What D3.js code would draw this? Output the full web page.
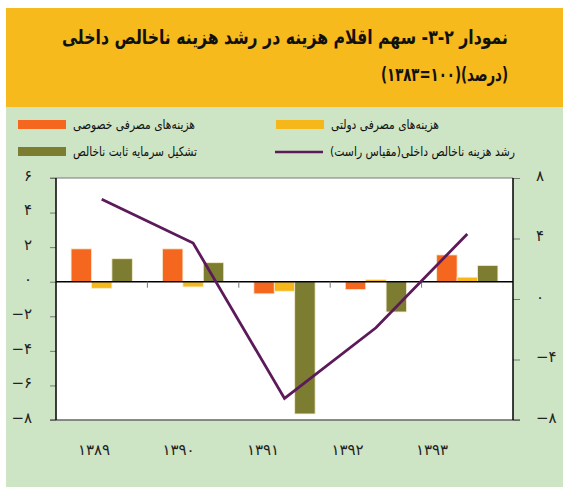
<!DOCTYPE html>
<html>
<head>
<meta charset="utf-8">
<script src="https://cdn.jsdelivr.net/npm/d3@7"></script>
<style>
  body { margin: 0; background: #fff; }
  text { font-family: "DejaVu Sans", sans-serif; }
</style>
</head>
<body>
<svg id="chart" width="563" height="487"></svg>
<script>
// chart data
var years = ["۱۳۸۹", "۱۳۹۰", "۱۳۹۱", "۱۳۹۲", "۱۳۹۳"];
var privateCons = [1.9, 1.9, -0.7, -0.45, 1.55];
var govCons = [-0.38, -0.3, -0.55, 0.12, 0.26];
var capital = [1.33, 1.1, -7.65, -1.75, 0.94];
var gdpGrowth = [6.6, 3.7, -6.57, -1.9, 4.3];
var leftTicks = [6, 4, 2, 0, -2, -4, -6, -8];
var rightTicks = [8, 4, 0, -4, -8];

var faDigits = "۰۱۲۳۴۵۶۷۸۹";
function fa(n) {
  var s = String(Math.abs(n)).replace(/[0-9]/g, function (c) { return faDigits[+c]; });
  return n < 0 ? "−" + s : s;
}

var svg = d3.select("#chart");

// background blocks
svg.append("rect").attr("x", 6).attr("y", 8).attr("width", 557).attr("height", 99).attr("fill", "#F6BA1C");
svg.append("rect").attr("x", 6).attr("y", 107).attr("width", 557).attr("height", 380).attr("fill", "#CDE5C5");

// title (squeezed to the width it has in the original)
// RLM marks keep "۲-۳-" in right-to-left order
svg.append("text")
  .attr("x", 508).attr("y", 44)
  .attr("direction", "rtl")
  .attr("text-anchor", "start")
  .attr("textLength", 446)
  .attr("lengthAdjust", "spacingAndGlyphs")
  .style("font-weight", "bold")
  .style("font-size", "20px")
  .attr("fill", "#111")
  .text("نمودار ۲\u200F-\u200F۳\u200F- سهم اقلام هزینه در رشد هزینه ناخالص داخلی");
svg.append("text")
  .attr("x", 508).attr("y", 81)
  .attr("direction", "rtl")
  .attr("text-anchor", "start")
  .attr("textLength", 127)
  .attr("lengthAdjust", "spacingAndGlyphs")
  .style("font-weight", "bold")
  .style("font-size", "19px")
  .attr("fill", "#111")
  .text("(درصد)(۱۰۰=۱۳۸۳)");

// plot measurements
var margin = { top: 178, right: 50, bottom: 67, left: 56 },
  width = 563 - margin.left - margin.right,
  height = 487 - margin.top - margin.bottom;

var x = d3.scaleBand().domain(years).range([0, width]).paddingInner(0.33).paddingOuter(0.165);
var xSeries = d3.scaleBand().domain([0, 1, 2]).range([0, x.bandwidth()]);
var xStep = d3.scaleBand().domain(years).range([0, width]);
var yLeft = d3.scaleLinear().domain([-8, 6]).range([height, 0]);
var yRight = d3.scaleLinear().domain([-8, 8]).range([height, 0]);
var xLabel = d3.scalePoint().domain(years).range([38, 376]);

var g = svg.append("g").attr("transform", "translate(" + margin.left + "," + margin.top + ")");

g.append("rect").attr("width", width).attr("height", height).attr("fill", "#fff");

// left axis
var leftAxis = g.append("g")
  .call(d3.axisLeft(yLeft).tickValues(leftTicks).tickSize(6).tickFormat(fa));
leftAxis.select(".domain").remove();
leftAxis.selectAll(".tick line").attr("stroke", "#777");
leftAxis.selectAll(".tick text")
  .attr("x", -24).attr("dy", "0.15em")
  .attr("direction", "ltr")
  .style("font-size", "15px").attr("fill", "#222");

// right axis
var rightAxis = g.append("g")
  .attr("transform", "translate(" + width + ",0)")
  .call(d3.axisRight(yRight).tickValues(rightTicks).tickSize(7).tickFormat(fa));
rightAxis.select(".domain").remove();
rightAxis.selectAll(".tick line").attr("stroke", "#777");
rightAxis.selectAll(".tick text")
  .attr("x", 23).attr("dy", "0.15em")
  .attr("direction", "ltr")
  .style("font-size", "15px").attr("fill", "#222");

// frame
g.append("line").attr("x1", -6).attr("x2", width).attr("y1", 0).attr("y2", 0).attr("stroke", "#777");
g.append("line").attr("x1", -6).attr("x2", width + 7).attr("y1", height).attr("y2", height).attr("stroke", "#666").attr("stroke-width", 1.5);
g.append("line").attr("x1", 0).attr("x2", 0).attr("y1", 0).attr("y2", height).attr("stroke", "#000").attr("stroke-width", 1.5);
g.append("line").attr("x1", width).attr("x2", width).attr("y1", 0).attr("y2", height).attr("stroke", "#000").attr("stroke-width", 1.5);

// bars
var series = [
  { values: privateCons, color: "#F5671F" },
  { values: govCons, color: "#F6B71A" },
  { values: capital, color: "#7D7D32" }
];
series.forEach(function (s, si) {
  g.selectAll(".bar" + si)
    .data(s.values)
    .enter()
    .append("rect")
    .attr("x", function (d, i) { return x(years[i]) + xSeries(si); })
    .attr("y", function (d) { return yLeft(Math.max(0, d)); })
    .attr("width", xSeries.bandwidth())
    .attr("height", function (d) { return Math.abs(yLeft(d) - yLeft(0)); })
    .attr("fill", s.color)
    .attr("stroke", "#f6eccf")
    .attr("stroke-width", 0.8);
});

// zero line + category ticks
g.append("line").attr("x1", 0).attr("x2", width).attr("y1", yLeft(0)).attr("y2", yLeft(0)).attr("stroke", "#000").attr("stroke-width", 1.5);
g.selectAll(".cattick")
  .data(years.slice(1))
  .enter()
  .append("line")
  .attr("x1", function (d) { return xStep(d); })
  .attr("x2", function (d) { return xStep(d); })
  .attr("y1", yLeft(0))
  .attr("y2", yLeft(0) + 6)
  .attr("stroke", "#777");

// gdp line
var line = d3.line()
  .x(function (d, i) { return x(years[i]) + x.bandwidth() / 2; })
  .y(function (d) { return yRight(d); });
g.append("path")
  .datum(gdpGrowth)
  .attr("fill", "none")
  .attr("stroke", "#5D1A5B")
  .attr("stroke-width", 2.8)
  .attr("d", line);

// year labels
g.selectAll(".year")
  .data(years)
  .enter()
  .append("text")
  .attr("x", function (d) { return xLabel(d); })
  .attr("y", height + 35)
  .attr("text-anchor", "middle")
  .style("font-size", "15px")
  .attr("fill", "#222")
  .text(function (d) { return d; });

// legend
var legend = [
  { label: "هزینه‌های مصرفی خصوصی", color: "#F5671F", type: "rect", x: 18, y: 120, w: 122 },
  { label: "هزینه‌های مصرفی دولتی", color: "#F6B71A", type: "rect", x: 276, y: 120, w: 108 },
  { label: "تشکیل سرمایه ثابت ناخالص", color: "#7D7D32", type: "rect", x: 18, y: 147, w: 124 },
  { label: "رشد هزینه ناخالص داخلی(مقیاس راست)", color: "#5D1A5B", type: "line", x: 275, y: 147, w: 185 }
];
legend.forEach(function (d) {
  if (d.type === "rect") {
    svg.append("rect").attr("x", d.x).attr("y", d.y).attr("width", 48).attr("height", 9).attr("fill", d.color);
  } else {
    svg.append("line").attr("x1", d.x).attr("x2", d.x + 48).attr("y1", d.y + 5).attr("y2", d.y + 5)
      .attr("stroke", d.color).attr("stroke-width", 2.5);
  }
  svg.append("text")
    .attr("x", d.x + 55).attr("y", d.y + 9)
    .attr("direction", "rtl")
    .attr("text-anchor", "end")
    .attr("textLength", d.w)
    .attr("lengthAdjust", "spacingAndGlyphs")
    .style("font-size", "13px")
    .attr("fill", "#111")
    .text(d.label);
});
</script>
</body>
</html>
